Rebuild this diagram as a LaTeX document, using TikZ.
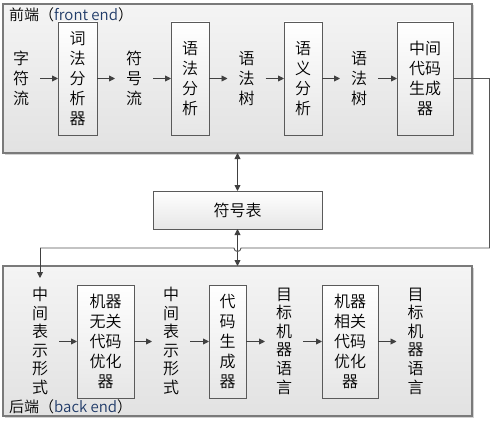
\documentclass[tikz,border=0pt]{standalone}
\usepackage{fontspec}
\setmainfont{Noto Sans CJK SC}[UprightFont=* DemiLight]
\usetikzlibrary{arrows.meta,shadows}
\definecolor{boxedge}{HTML}{5A5A5A}
\definecolor{outeredge}{HTML}{7A7A7A}
\definecolor{arrowcol}{HTML}{404040}
\definecolor{linkcol}{HTML}{555555}
\definecolor{navy}{HTML}{1F3A68}
\definecolor{outertop}{HTML}{F4F4F4}
\definecolor{outerbot}{HTML}{E2E2E2}
\definecolor{innerbot}{HTML}{E6E6E6}
\begin{document}
\begin{tikzpicture}[x=1pt,y=-1pt,
  every node/.style={font=\fontsize{16}{20}\selectfont, align=center},
  outerbox/.style={draw=outeredge, line width=1.3pt, top color=outertop, bottom color=outerbot,
     minimum width=469pt, inner sep=0pt, outer sep=0pt,
     drop shadow={shadow xshift=1.5pt, shadow yshift=-1.5pt, opacity=0.35, fill=gray}},
  procbox/.style={draw=boxedge, line width=0.9pt, top color=white, bottom color=innerbot,
     minimum height=113pt, inner sep=0pt, outer sep=0pt,
     drop shadow={shadow xshift=1.2pt, shadow yshift=-1.2pt, opacity=0.3, fill=gray}},
  datatext/.style={minimum width=38pt, inner sep=0pt, outer sep=0pt},
  tallstack/.style={font=\fontsize{16}{18.6}\selectfont},
  flow/.style={draw=arrowcol, line width=0.9pt, -{Triangle[length=6pt,width=6pt]}},
  both/.style={draw=arrowcol, line width=0.9pt, {Triangle[length=6pt,width=6pt]}-{Triangle[length=6pt,width=6pt]}},
  link/.style={draw=linkcol, line width=0.9pt},
  title/.style={anchor=west, inner sep=0pt, font=\fontsize{15}{18}\selectfont}
]
\useasboundingbox[fill=white] (0,0) rectangle (492,425);

% outer boxes
\node[outerbox, minimum height=149pt] (fe) at (237.5,78.5) {};
\node[outerbox, minimum height=150pt] (be) at (237.5,341) {};
\node[title] (fetitle) at (9,15) {前端（{\color{navy}front end}）};
\node[title] (betitle) at (9,407) {后端（{\color{navy}back end}）};

% front end
\node[datatext] (t1) at (21,78.5) {字\\符\\流};
\node[procbox, minimum width=39pt] (lex) at (77.5,78.5) {词\\法\\分\\析\\器};
\node[datatext] (t2) at (134,78.5) {符\\号\\流};
\node[procbox, minimum width=38pt] (syn) at (190,78.5) {语\\法\\分\\析};
\node[datatext] (t3) at (246.5,78.5) {语\\法\\树};
\node[procbox, minimum width=38pt] (sem) at (303,78.5) {语\\义\\分\\析};
\node[datatext] (t4) at (359,78.5) {语\\法\\树};
\node[procbox, minimum width=56pt] (gen) at (425,78.5) {中间\\代码\\生成\\器};

\draw[flow] (t1.east |- lex) -- (lex.west);
\draw[flow] (lex.east) -- (t2.west |- lex);
\draw[flow] (t2.east |- syn) -- (syn.west);
\draw[flow] (syn.east) -- (t3.west |- syn);
\draw[flow] (t3.east |- sem) -- (sem.west);
\draw[flow] (sem.east) -- (t4.west |- sem);
\draw[flow] (t4.east |- gen) -- (gen.west);

% symbol table
\node[procbox, minimum width=169pt, minimum height=38pt] (st) at (237.5,210) {符号表};
\draw[both] (st.north) -- (st.north |- fe.south);
\draw[both] (st.south) -- (st.south |- be.north);

% back end
\node[datatext, tallstack] (b1) at (40,341) {中\\间\\表\\示\\形\\式};
\node[procbox, minimum width=57pt] (opt1) at (105.5,341.5) {机器\\无关\\代码\\优化\\器};
\node[datatext, tallstack] (b2) at (171,341) {中\\间\\表\\示\\形\\式};
\node[procbox, minimum width=37pt] (cg) at (227.5,341.5) {代\\码\\生\\成\\器};
\node[datatext, tallstack] (b3) at (284,341) {目\\标\\机\\器\\语\\言};
\node[procbox, minimum width=56pt] (opt2) at (350,341.5) {机器\\相关\\代码\\优化\\器};
\node[datatext, tallstack] (b4) at (415.5,341) {目\\标\\机\\器\\语\\言};

\draw[flow] (b1.east |- opt1) -- (opt1.west);
\draw[flow] (opt1.east) -- (b2.west |- opt1);
\draw[flow] (b2.east |- cg) -- (cg.west);
\draw[flow] (cg.east) -- (b3.west |- cg);
\draw[flow] (b3.east |- opt2) -- (opt2.west);
\draw[flow] (opt2.east) -- (b4.west |- opt2);

% link from generator to back end input, hopping over the vertical arrow
\coordinate (c1) at (489.5,78.5);
\coordinate (c2) at (489.5,248);
\coordinate (h1) at (241,248);
\coordinate (h2) at (234,248);
\coordinate (c3) at (40,248);
\coordinate (c4) at (40,278);
\draw[link] (gen.east) -- (c1) -- (c2) -- (h1) arc[start angle=0, end angle=-180, radius=3.5pt] -- (c3);
\draw[link, -{Triangle[length=6pt,width=6pt]}, draw=arrowcol] (c3) -- (c4);
\end{tikzpicture}
\end{document}
